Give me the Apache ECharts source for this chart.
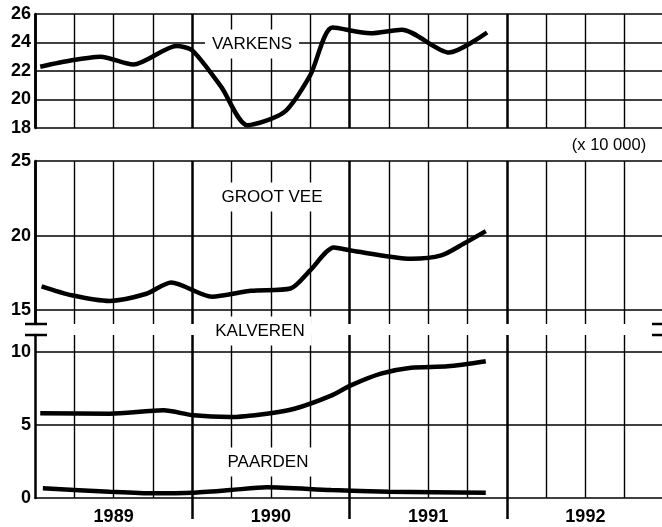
<!DOCTYPE html>
<html>
<head>
<meta charset="utf-8">
<style>html,body{margin:0;padding:0;background:#fff}#chart{width:662px;height:527px}</style>
<script src="https://cdn.jsdelivr.net/npm/echarts@6/dist/echarts.min.js"></script>
</head>
<body>
<div id="chart"></div>
<script>
// x = months since 1 jan 1989, values x 10 000 head
var yearLabels = ['1989', '1990', '1991', '1992'];
var yearBreaks = [12, 24, 36];
var yearMiddles = [6, 18, 30, 42];

var varkensMonths = [0.4, 2.8, 5.0, 7.5, 10.8, 12.0, 14.2, 16.2, 19.0, 21.0, 22.7, 25.6, 28.0, 31.6, 34.5];
var varkensValues = [22.3, 22.75, 23.0, 22.45, 23.75, 23.45, 20.9, 18.2, 19.1, 21.7, 25.05, 24.65, 24.9, 23.3, 24.7];

var grootVeeMonths = [0.5, 2.8, 5.7, 8.5, 10.4, 13.5, 16.5, 19.5, 21.0, 22.8, 24.1, 28.7, 31.0, 32.7, 34.4];
var grootVeeValues = [16.6, 16.0, 15.62, 16.1, 16.85, 15.9, 16.3, 16.45, 17.67, 19.2, 19.0, 18.45, 18.67, 19.45, 20.3];

var kalverenMonths = [0.4, 5.7, 9.8, 12.1, 14.9, 17.7, 19.8, 22.6, 24.1, 26.4, 28.7, 31.5, 34.4];
var kalverenValues = [5.8, 5.76, 5.99, 5.65, 5.53, 5.76, 6.1, 7.0, 7.7, 8.5, 8.9, 9.0, 9.35];

var paardenMonths = [0.6, 5.7, 9.0, 12.0, 14.9, 17.7, 22.6, 27.0, 34.4];
var paardenValues = [0.66, 0.43, 0.32, 0.36, 0.54, 0.73, 0.54, 0.43, 0.36];

var varkensTicks = [18, 20, 22, 24, 26];
var grootVeeTicks = [15, 20, 25];
var kalverenTicks = [0, 5, 10];

var font = '"Liberation Sans", Arial, Helvetica, sans-serif';

function pairs(xs, ys) {
  return xs.map(function (x, i) { return [x, ys[i]]; });
}

function xAxisFor(gridIndex, withYears) {
  return {
    type: 'value', gridIndex: gridIndex, min: 0, max: 48, interval: 12,
    axisLine: { show: withYears, onZero: false, lineStyle: { color: '#000', width: 1.5 } },
    axisTick: withYears ? { show: true, customValues: yearBreaks, length: 21, lineStyle: { color: '#000', width: 2.5 } } : { show: false },
    axisLabel: withYears ? {
      show: true, customValues: yearMiddles, margin: 10,
      formatter: function (v) { return yearLabels[Math.floor(v / 12)]; },
      color: '#000', fontSize: 18, fontWeight: 'bold', fontFamily: font
    } : { show: false },
    splitLine: { show: true, lineStyle: { color: '#000', width: 2.5 } },
    minorTick: { show: false, splitNumber: 4 },
    minorSplitLine: { show: true, lineStyle: { color: '#000', width: 1.4 } }
  };
}

var yLabel = { color: '#000', fontSize: 18, fontWeight: 'bold', fontFamily: font, margin: 4 };
var axisLine = { show: true, onZero: false, lineStyle: { color: '#000', width: 2.5 } };

function hLines(vals) {
  return {
    silent: true, symbol: ['none', 'none'], animation: false,
    label: { show: false },
    lineStyle: { color: '#000', width: 1.5, type: 'solid' },
    data: vals.map(function (v) { return { yAxis: v }; })
  };
}

function curve(name, idx, data, marks) {
  var s = {
    name: name, type: 'line', xAxisIndex: idx, yAxisIndex: idx,
    data: data, smooth: 0.25, showSymbol: false, z: 3,
    lineStyle: { color: '#000', width: 4.5 }
  };
  if (marks) s.markLine = hLines(marks);
  return s;
}

function label(text, x, y, size, bg) {
  return {
    type: 'text', x: x, y: y, z: 1,
    style: {
      text: text, fill: '#000', font: size + 'px ' + font,
      align: 'center', verticalAlign: 'middle',
      backgroundColor: bg ? '#fff' : 'transparent', padding: [6, 7]
    }
  };
}

function brk(x1, x2, y) {
  return { type: 'line', z: 1, shape: { x1: x1, y1: y, x2: x2, y2: y }, style: { stroke: '#000', lineWidth: 2.5 } };
}

var chart = echarts.init(document.getElementById('chart'));
chart.setOption({
  animation: false,
  backgroundColor: '#fff',
  grid: [
    { left: 35, right: -2, top: 14, height: 114, containLabel: false, outerBoundsMode: 'none' },
    { left: 35, right: -2, top: 161, height: 163, containLabel: false, outerBoundsMode: 'none' },
    { left: 35, right: -2, top: 335, height: 163, containLabel: false, outerBoundsMode: 'none' }
  ],
  xAxis: [xAxisFor(0, false), xAxisFor(1, false), xAxisFor(2, true)],
  yAxis: [
    { type: 'value', gridIndex: 0, min: 18, max: 26, interval: 2, axisLine: axisLine, axisTick: { show: false },
      axisLabel: Object.assign({ customValues: varkensTicks }, yLabel),
      splitLine: { show: true, lineStyle: { color: '#000', width: 1.5 } } },
    { type: 'value', gridIndex: 1, min: 14.07, max: 25, axisLine: axisLine, axisTick: { show: false },
      axisLabel: Object.assign({ customValues: grootVeeTicks }, yLabel), splitLine: { show: false } },
    { type: 'value', gridIndex: 2, min: 0, max: 11.14, axisLine: axisLine, axisTick: { show: false },
      axisLabel: Object.assign({ customValues: kalverenTicks }, yLabel), splitLine: { show: false } }
  ],
  series: [
    curve('Varkens', 0, pairs(varkensMonths, varkensValues)),
    curve('Groot vee', 1, pairs(grootVeeMonths, grootVeeValues), grootVeeTicks),
    curve('Kalveren', 2, pairs(kalverenMonths, kalverenValues), [5, 10]),
    curve('Paarden', 2, pairs(paardenMonths, paardenValues))
  ],
  graphic: [
    label('VARKENS', 252, 44, 17, true),
    label('GROOT VEE', 272, 197, 17, true),
    label('KALVEREN', 260, 331, 17, true),
    label('PAARDEN', 268, 462, 17, true),
    label('(x 10 000)', 609, 145, 16.5, false),
    brk(25, 47, 324), brk(25, 47, 335),
    brk(652, 662, 324), brk(652, 662, 335)
  ]
});
</script>
</body>
</html>
